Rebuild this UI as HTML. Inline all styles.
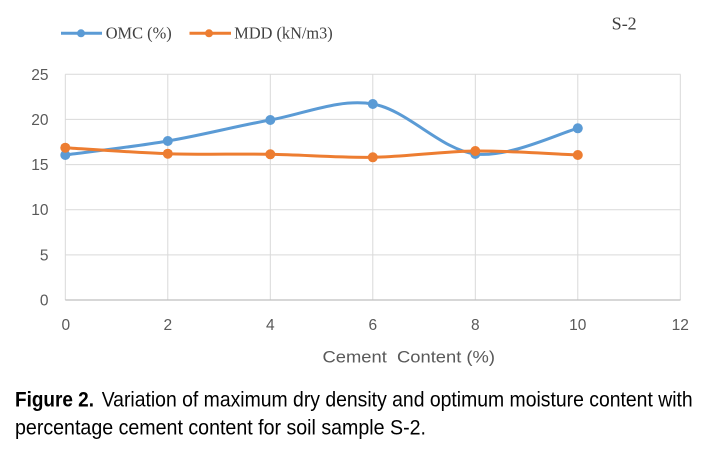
<!DOCTYPE html>
<html>
<head>
<meta charset="utf-8">
<style>
  html, body { margin: 0; padding: 0; background: #ffffff; }
  svg { display: block; }
</style>
</head>
<body>
<svg width="718" height="466" viewBox="0 0 718 466" xmlns="http://www.w3.org/2000/svg">
  <rect x="0" y="0" width="718" height="466" fill="#ffffff"/>

  <!-- gridlines horizontal -->
  <g stroke="#d9d9d9" stroke-width="1" fill="none">
    <line x1="65.3" y1="74.3" x2="680.5" y2="74.3"/>
    <line x1="65.3" y1="119.4" x2="680.5" y2="119.4"/>
    <line x1="65.3" y1="164.6" x2="680.5" y2="164.6"/>
    <line x1="65.3" y1="209.7" x2="680.5" y2="209.7"/>
    <line x1="65.3" y1="254.9" x2="680.5" y2="254.9"/>
    <!-- vertical -->
    <line x1="65.3" y1="74.3" x2="65.3" y2="300"/>
    <line x1="167.8" y1="74.3" x2="167.8" y2="300"/>
    <line x1="270.3" y1="74.3" x2="270.3" y2="300"/>
    <line x1="372.8" y1="74.3" x2="372.8" y2="300"/>
    <line x1="475.3" y1="74.3" x2="475.3" y2="300"/>
    <line x1="577.8" y1="74.3" x2="577.8" y2="300"/>
    <line x1="680.3" y1="74.3" x2="680.3" y2="300"/>
  </g>
  <line x1="65.3" y1="300" x2="680.5" y2="300" stroke="#bfbfbf" stroke-width="1.2"/>

  <!-- y tick labels -->
  <g font-family="'Liberation Sans', sans-serif" font-size="15.5" fill="#595959" text-anchor="end">
    <text x="48.5" y="79.8">25</text>
    <text x="48.5" y="124.9">20</text>
    <text x="48.5" y="170.1">15</text>
    <text x="48.5" y="215.2">10</text>
    <text x="48.5" y="260.4">5</text>
    <text x="48.5" y="305.5">0</text>
  </g>
  <!-- x tick labels -->
  <g font-family="'Liberation Sans', sans-serif" font-size="15.5" fill="#595959" text-anchor="middle">
    <text x="65.8" y="329.8">0</text>
    <text x="167.8" y="329.8">2</text>
    <text x="270.3" y="329.8">4</text>
    <text x="372.8" y="329.8">6</text>
    <text x="475.3" y="329.8">8</text>
    <text x="577.8" y="329.8">10</text>
    <text x="680.3" y="329.8">12</text>
  </g>
  <!-- axis title -->
  <text x="322.5" y="362.3" font-family="'Liberation Sans', sans-serif" font-size="16.5" fill="#595959" textLength="172.5" lengthAdjust="spacingAndGlyphs" xml:space="preserve">Cement  Content (%)</text>

  <!-- OMC series -->
  <path d="M65.3,155 C82.4,152.67 133.6,146.83 167.8,141 C201.97,135.17 236.1,126.17 270.3,120 C304.5,113.83 338.6,98.33 372.8,104 C407.0,109.67 441.1,149.95 475.3,154 C509.5,158.05 560.7,132.58 577.8,128.3"
        fill="none" stroke="#5b9bd5" stroke-width="3" stroke-linecap="round" stroke-linejoin="round"/>
  <g fill="#5b9bd5">
    <circle cx="65.3" cy="155" r="5"/>
    <circle cx="167.8" cy="141" r="5"/>
    <circle cx="270.3" cy="120" r="5"/>
    <circle cx="372.8" cy="104" r="5"/>
    <circle cx="475.3" cy="154" r="5"/>
    <circle cx="577.8" cy="128.3" r="5"/>
  </g>

  <!-- MDD series -->
  <path d="M65.3,147.7 C82.4,148.7 133.6,152.6 167.8,153.7 C201.97,154.8 236.1,153.7 270.3,154.3 C304.5,154.9 338.6,157.85 372.8,157.3 C407.0,156.75 441.1,151.38 475.3,151 C509.5,150.62 560.7,154.33 577.8,155"
        fill="none" stroke="#ed7d31" stroke-width="3" stroke-linecap="round" stroke-linejoin="round"/>
  <g fill="#ed7d31">
    <circle cx="65.3" cy="147.7" r="5"/>
    <circle cx="167.8" cy="153.7" r="5"/>
    <circle cx="270.3" cy="154.3" r="5"/>
    <circle cx="372.8" cy="157.3" r="5"/>
    <circle cx="475.3" cy="151" r="5"/>
    <circle cx="577.8" cy="155" r="5"/>
  </g>

  <!-- legend -->
  <line x1="61" y1="33.3" x2="102" y2="33.3" stroke="#5b9bd5" stroke-width="3"/>
  <circle cx="81" cy="33.3" r="4" fill="#5b9bd5"/>
  <text x="105.7" y="38.6" font-family="'Liberation Serif', serif" font-size="16.5" fill="#404040" textLength="66" lengthAdjust="spacingAndGlyphs">OMC (%)</text>
  <line x1="189.5" y1="33.3" x2="231" y2="33.3" stroke="#ed7d31" stroke-width="3"/>
  <circle cx="209" cy="33.3" r="4" fill="#ed7d31"/>
  <text x="234.3" y="38.6" font-family="'Liberation Serif', serif" font-size="16.5" fill="#404040" textLength="98.4" lengthAdjust="spacingAndGlyphs">MDD (kN/m3)</text>

  <!-- S-2 label -->
  <text x="611.7" y="29.3" font-family="'Liberation Serif', serif" font-size="17.5" fill="#404040" textLength="25" lengthAdjust="spacingAndGlyphs">S-2</text>

  <!-- caption -->
  <text x="15" y="406.7" font-family="'Liberation Sans', sans-serif" font-size="21" font-weight="bold" fill="#000" textLength="79" lengthAdjust="spacingAndGlyphs">Figure 2.</text>
  <text x="101.7" y="406.7" font-family="'Liberation Sans', sans-serif" font-size="21" fill="#000" textLength="591" lengthAdjust="spacingAndGlyphs">Variation of maximum dry density and optimum moisture content with</text>
  <text x="15" y="434.3" font-family="'Liberation Sans', sans-serif" font-size="21" fill="#000" textLength="411" lengthAdjust="spacingAndGlyphs">percentage cement content for soil sample S-2.</text>
</svg>
</body>
</html>
